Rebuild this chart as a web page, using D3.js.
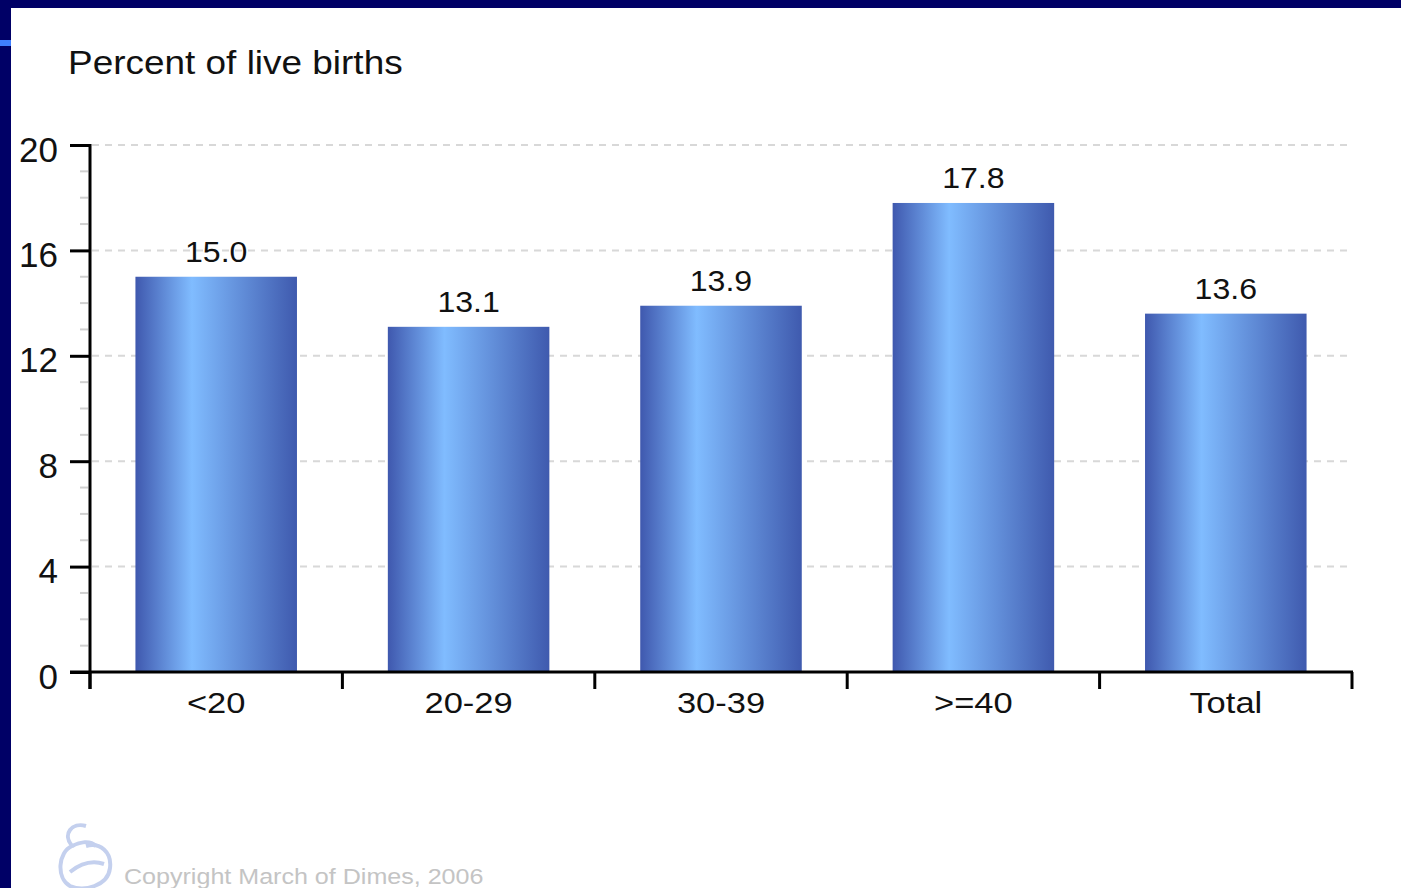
<!DOCTYPE html>
<html>
<head>
<meta charset="utf-8">
<script src="https://cdn.jsdelivr.net/npm/d3@7/dist/d3.min.js"></script>
<style>
  html, body { margin: 0; padding: 0; background: #ffffff; }
  svg { display: block; }
</style>
</head>
<body>
<svg id="chart" width="1401" height="888"></svg>
<script>
// Preterm births by maternal age, percent of live births
const categories = ["<20", "20-29", "30-39", ">=40", "Total"];
const values = [15.0, 13.1, 13.9, 17.8, 13.6];
const yTicks = [0, 4, 8, 12, 16, 20];
const yTitle = "Percent of live births";
const credit = "Copyright March of Dimes, 2006";

const FONT = "Liberation Sans, Arial, Helvetica, sans-serif";
const svg = d3.select("#chart");
const W = 1401, H = 888;

// place a horizontally widened text label
function wideText(sel, x, y, sx, anchor) {
  return sel.attr("transform", (d, i) => `translate(${x(d, i)},${y(d, i)}) scale(${sx},1)`)
    .attr("text-anchor", anchor);
}

// slide frame
svg.append("rect").attr("x", 0).attr("y", 0).attr("width", W).attr("height", H).attr("fill", "#ffffff");
svg.append("rect").attr("x", 0).attr("y", 0).attr("width", W).attr("height", 8).attr("fill", "#000066");
svg.append("rect").attr("x", 0).attr("y", 0).attr("width", 11).attr("height", H).attr("fill", "#000066");
svg.append("rect").attr("x", 0).attr("y", 40).attr("width", 11).attr("height", 6).attr("fill", "#3f7fff");

const plot = { left: 90, right: 1352, top: 145, bottom: 672 };

const x = d3.scaleBand().domain(categories).range([plot.left, plot.right]).paddingInner(0.36).paddingOuter(0.18);
const xOuter = d3.scaleBand().domain(categories).range([plot.left, plot.right]);
const y = d3.scaleLinear().domain([0, 20]).range([plot.bottom, plot.top]);

// bar gradient
const defs = svg.append("defs");
const grad = defs.append("linearGradient").attr("id", "barGrad").attr("x1", "0").attr("x2", "1").attr("y1", "0").attr("y2", "0");
grad.append("stop").attr("offset", "0").attr("stop-color", "#3f58ae");
grad.append("stop").attr("offset", "0.35").attr("stop-color", "#80bcff");
grad.append("stop").attr("offset", "1").attr("stop-color", "#3f5aae");

// gridlines
svg.append("g").selectAll("line").data(yTicks.filter(d => d > 0)).join("line")
  .attr("x1", plot.left + 2).attr("x2", 1348)
  .attr("y1", d => y(d)).attr("y2", d => y(d))
  .attr("stroke", "#d8d8d8").attr("stroke-width", 2).attr("stroke-dasharray", "7,6");

// minor ticks
svg.append("g").selectAll("line").data(d3.range(1, 20).filter(d => d % 4 !== 0)).join("line")
  .attr("x1", 80).attr("x2", 88)
  .attr("y1", d => y(d)).attr("y2", d => y(d))
  .attr("stroke", "#d0d0d0").attr("stroke-width", 2);

// bars
svg.append("g").selectAll("rect").data(values).join("rect")
  .attr("x", (d, i) => x(categories[i]))
  .attr("width", x.bandwidth())
  .attr("y", d => y(d))
  .attr("height", d => y(0) - y(d))
  .attr("fill", "url(#barGrad)");

// value labels
wideText(
  svg.append("g").selectAll("text").data(values).join("text"),
  (d, i) => x(categories[i]) + x.bandwidth() / 2,
  d => y(d) - 15, 1.07, "middle")
  .attr("font-family", FONT).attr("font-size", 30).attr("fill", "#111")
  .text(d => d.toFixed(1));

// y axis
const yAxis = d3.axisLeft(y).tickValues(yTicks).tickSize(20).tickPadding(12).tickFormat(d3.format("d"));
const gy = svg.append("g").attr("transform", `translate(${plot.left},0)`).call(yAxis);
gy.select(".domain").remove();
gy.selectAll(".tick line").attr("stroke", "#000").attr("stroke-width", 3);
gy.selectAll(".tick text").attr("font-family", FONT).attr("font-size", 35).attr("fill", "#111").attr("dy", "0.46em");
svg.append("line").attr("x1", plot.left).attr("x2", plot.left).attr("y1", plot.top - 1).attr("y2", 689)
  .attr("stroke", "#000").attr("stroke-width", 3);

// x axis
svg.append("line").attr("x1", 70).attr("x2", plot.right + 1).attr("y1", plot.bottom).attr("y2", plot.bottom)
  .attr("stroke", "#000").attr("stroke-width", 3);
const xEdges = categories.map(c => xOuter(c)).concat([plot.right]);
svg.append("g").selectAll("line").data(xEdges).join("line")
  .attr("x1", d => d).attr("x2", d => d)
  .attr("y1", plot.bottom).attr("y2", 689)
  .attr("stroke", "#000").attr("stroke-width", 3);
wideText(
  svg.append("g").selectAll("text").data(categories).join("text"),
  d => xOuter(d) + xOuter.bandwidth() / 2, () => 713, 1.15, "middle")
  .attr("font-family", FONT).attr("font-size", 30).attr("fill", "#111")
  .text(d => d);

// axis title
svg.append("text").attr("transform", "translate(68,74) scale(1.12,1)")
  .attr("font-family", FONT).attr("font-size", 33).attr("fill", "#111")
  .text(yTitle);

// logo mark
const logo = svg.append("g").attr("fill", "none").attr("stroke", "#c4d0ee").attr("stroke-width", 4);
logo.append("path").attr("d", "M86,826 C72,822 62,834 72,846 C58,852 56,878 70,886 C84,892 108,886 110,868 C112,852 100,842 86,846");
logo.append("path").attr("d", "M72,846 C80,842 90,840 96,846");
logo.append("path").attr("d", "M70,872 C80,864 92,860 104,864");

// credit line
svg.append("text").attr("transform", "translate(124,884) scale(1.14,1)")
  .attr("font-family", FONT).attr("font-size", 22).attr("fill", "#c4c4c4")
  .text(credit);
</script>
</body>
</html>
